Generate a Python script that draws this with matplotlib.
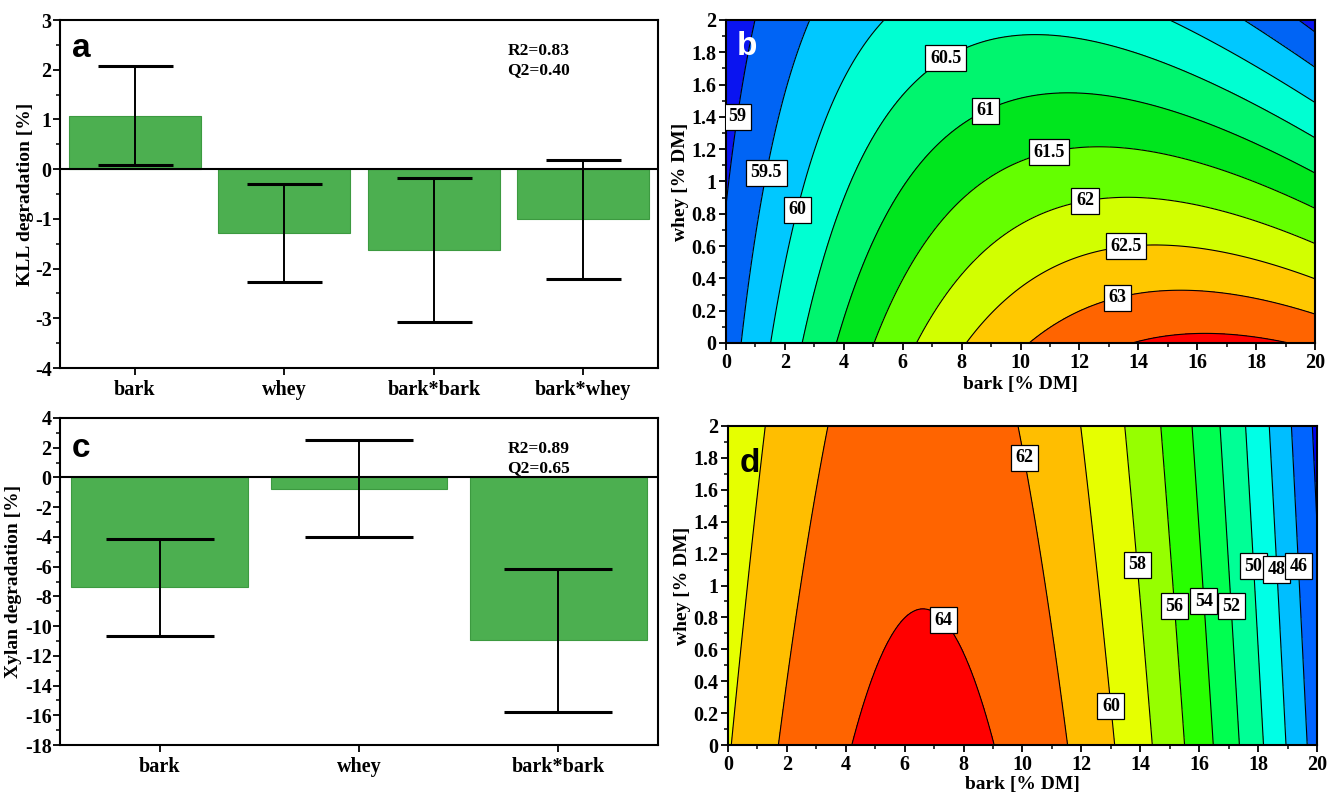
import numpy as np
import matplotlib
matplotlib.use('Agg')
import matplotlib.pyplot as plt
from matplotlib.ticker import MultipleLocator, FuncFormatter

plt.rcParams['font.family'] = 'Liberation Serif'
plt.rcParams['font.weight'] = 'bold'
plt.rcParams['axes.labelweight'] = 'bold'
plt.rcParams['axes.unicode_minus'] = False

# coded model coefficients (scaled & centred) with confidence intervals
kll_terms = ['bark', 'whey', 'bark*bark', 'bark*whey']
kll_coef = [1.08, -1.28, -1.62, -1.01]
kll_err = [0.99, 0.98, 1.45, 1.19]
kll_intercept = 61.66
kll_stats = ['R2=0.83', 'Q2=0.40']

xylan_terms = ['bark', 'whey', 'bark*bark']
xylan_coef = [-7.4, -0.75, -10.95]
xylan_err = [3.25, 3.25, 4.8]
xylan_intercept = 62.64
xylan_stats = ['R2=0.89', 'Q2=0.65']

# contour levels and band colours
kll_levels = [58, 59, 59.5, 60, 60.5, 61, 61.5, 62, 62.5, 63, 63.5, 64.5]
kll_colors = ['#0A14F0', '#0064F5', '#00C8FF', '#00FFD2', '#00F56E', '#00E61E',
              '#64FF00', '#D2FF00', '#FFC800', '#FF6400', '#FF0000']
xylan_levels = [40, 44, 46, 48, 50, 52, 54, 56, 58, 60, 62, 64, 66]
xylan_colors = ['#0000F0', '#0064FF', '#00BEFF', '#00FFE6', '#00FF96', '#00FF50',
                '#28FF00', '#96FF00', '#E6FF00', '#FFBE00', '#FF6400', '#FF0000']

bark_range = (0, 20)
whey_range = (0, 2)

BAR_GREEN = '#4CAF50'


def surface(coef, intercept, bark, whey):
    # evaluate the coded model: X, W scaled to [-1, 1]
    X = (bark - 10) / 10.0
    W = whey - 1.0
    z = intercept + coef[0] * X + coef[1] * W + coef[2] * X * X
    if len(coef) > 3:
        z = z + coef[3] * X * W
    return z


def bar_panel(ax, terms, coef, err, ylim, major, minor, ylabel, letter, stats,
              capsize, label_x, letter_y, stats_y):
    x = np.arange(len(terms))
    ax.bar(x, coef, width=0.885, color=BAR_GREEN, edgecolor='#3C9A40',
           linewidth=0.8, zorder=2)
    ax.errorbar(x, coef, yerr=err, fmt='none', ecolor='black', elinewidth=1.4,
                capsize=capsize, capthick=2.2, zorder=3)
    ax.axhline(0, color='black', lw=1.5, zorder=4)
    ax.set_xlim(-0.5, len(terms) - 0.5)
    ax.set_ylim(*ylim)
    ax.set_xticks(x)
    ax.set_xticklabels(terms, fontsize=14.5)
    ax.yaxis.set_major_locator(MultipleLocator(major))
    ax.yaxis.set_minor_locator(MultipleLocator(minor))
    ax.yaxis.set_major_formatter(FuncFormatter(lambda v, p: '%g' % v))
    ax.tick_params(axis='y', labelsize=14.5, pad=1)
    ax.tick_params(direction='out', length=5, width=1.3)
    ax.tick_params(which='minor', direction='out', length=3, width=1.1)
    ax.set_ylabel(ylabel, fontsize=14, va='center')
    ax.yaxis.set_label_coords(label_x, 0.5)
    ax.text(0.02, letter_y, letter, transform=ax.transAxes, family='Liberation Sans',
            fontsize=24, fontweight='bold', va='baseline')
    ax.text(0.748, stats_y, stats[0] + '\n' + stats[1], transform=ax.transAxes,
            fontsize=12.5, fontweight='bold', va='top', linespacing=1.3)
    for s in ax.spines.values():
        s.set_linewidth(1.5)


def contour_panel(ax, coef, intercept, levels, colors, label_pos, letter,
                  letter_color, letter_y, xlabel_y):
    bark = np.linspace(bark_range[0], bark_range[1], 401)
    whey = np.linspace(whey_range[0], whey_range[1], 201)
    B, W = np.meshgrid(bark, whey)
    Z = surface(coef, intercept, B, W)
    ax.contourf(B, W, Z, levels=levels, colors=colors)
    cs = ax.contour(B, W, Z, levels=levels[1:-1], colors='black', linewidths=0.8)
    texts = ax.clabel(cs, fmt='%g', manual=label_pos, inline=False, fontsize=13)
    for t in texts:
        t.set_rotation(0)
        t.set_fontweight('bold')
        t.set_bbox(dict(boxstyle='square,pad=0.25', fc='white', ec='black', lw=0.9))
        t.set_zorder(10)
    ax.set_xlim(*bark_range)
    ax.set_ylim(*whey_range)
    ax.xaxis.set_major_locator(MultipleLocator(2))
    ax.xaxis.set_minor_locator(MultipleLocator(1))
    ax.yaxis.set_major_locator(MultipleLocator(0.2))
    ax.yaxis.set_minor_locator(MultipleLocator(0.1))
    ax.yaxis.set_major_formatter(FuncFormatter(lambda v, p: '%g' % round(v, 2)))
    ax.tick_params(labelsize=14.5, pad=2)
    ax.tick_params(direction='out', length=5, width=1.3)
    ax.tick_params(which='minor', direction='out', length=3, width=1.1)
    ax.set_xlabel('bark [% DM]', fontsize=14, va='center')
    ax.xaxis.set_label_coords(0.5, xlabel_y)
    ax.set_ylabel('whey [% DM]', fontsize=14, va='center')
    ax.yaxis.set_label_coords(-0.078, 0.5)
    ax.text(0.019, letter_y, letter, transform=ax.transAxes, family='Liberation Sans',
            fontsize=24, fontweight='bold', va='baseline', color=letter_color)
    for s in ax.spines.values():
        s.set_linewidth(1.5)


fig = plt.figure(figsize=(13.28, 7.93), dpi=100)
ax_a = fig.add_axes([0.0452, 0.5359, 0.4503, 0.4388])
ax_b = fig.add_axes([0.5467, 0.5675, 0.4435, 0.4073])
ax_c = fig.add_axes([0.0452, 0.0605, 0.4503, 0.4124])
ax_d = fig.add_axes([0.5482, 0.0605, 0.4435, 0.4023])

bar_panel(ax_a, kll_terms, kll_coef, kll_err, (-4, 3), 1, 0.5,
          'KLL degradation [%]', 'a', kll_stats, 27, -0.058, 0.895, 0.935)
bar_panel(ax_c, xylan_terms, xylan_coef, xylan_err, (-18, 4), 2, 1,
          'Xylan degradation [%]', 'c', xylan_stats, 39, -0.078, 0.88, 0.93)

kll_label_pos = [(0.45, 1.4), (1.45, 1.05), (2.5, 0.82), (7.5, 1.75), (8.9, 1.4),
                 (11.0, 1.15), (12.2, 0.87), (13.6, 0.58), (13.3, 0.28)]
xylan_label_pos = [(10.0, 1.8), (7.3, 0.78), (12.9, 0.24), (13.9, 1.13), (15.1, 0.87),
                   (16.1, 0.9), (17.1, 0.87), (17.9, 1.12), (18.6, 1.1), (19.3, 1.12)]

contour_panel(ax_b, kll_coef, kll_intercept, kll_levels, kll_colors, kll_label_pos,
              'b', 'white', 0.892, -0.13)
contour_panel(ax_d, xylan_coef, xylan_intercept, xylan_levels, xylan_colors,
              xylan_label_pos, 'd', 'black', 0.856, -0.125)

fig.savefig('out.png', dpi=100)
